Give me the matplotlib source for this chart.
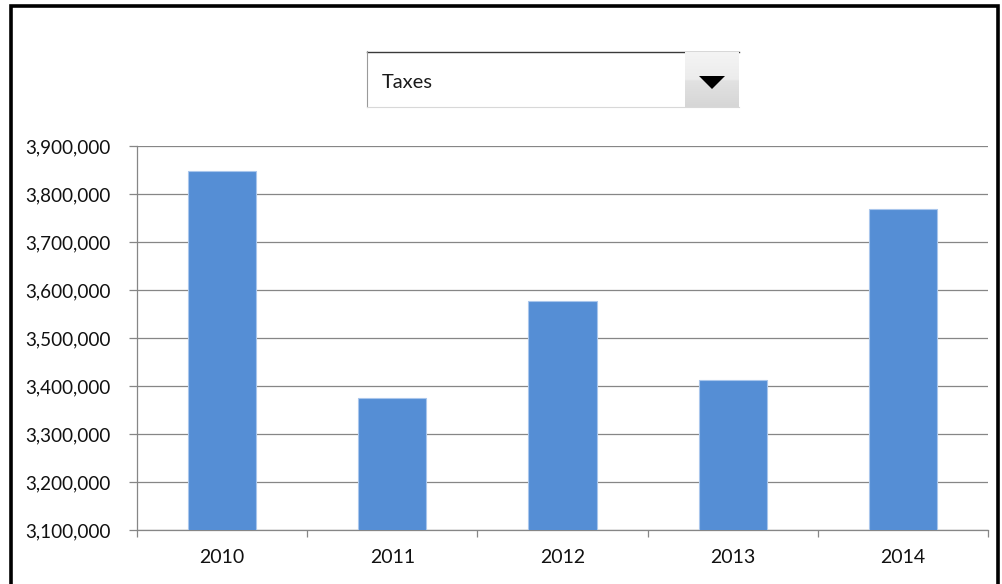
import matplotlib
matplotlib.use("Agg")
import matplotlib.pyplot as plt
from matplotlib.patches import Rectangle, Polygon
from matplotlib.colors import LinearSegmentedColormap
from matplotlib.ticker import FuncFormatter, FixedLocator
import numpy as np

plt.rcParams['font.family'] = ['Lato', 'DejaVu Sans']

years = ['2010', '2011', '2012', '2013', '2014']
taxes = [3847000, 3374000, 3578000, 3412000, 3769000]
selected = 'Taxes'

W, H = 1003, 584
fig = plt.figure(figsize=(W / 100, H / 100), dpi=100)

# overlay in pixel units for the frame and the dropdown control
deco = fig.add_axes([0, 0, 1, 1], zorder=-1)
deco.set_xlim(0, W)
deco.set_ylim(H, 0)
deco.axis('off')

# black frame (open at the bottom)
deco.plot([11.5, 11.5, 998.5, 998.5], [H + 5, 6, 6, H + 5], color='black', lw=2.6,
          solid_joinstyle='miter', solid_capstyle='butt')

# dropdown box
deco.add_patch(Rectangle((367, 51), 372, 56, facecolor='white', edgecolor='none'))
deco.plot([367, 739], [51.5, 51.5], color='#3a3a3a', lw=1.0)
deco.plot([367.5, 367.5], [51, 107], color='#9a9a9a', lw=0.8)
deco.plot([367, 739], [106.5, 106.5], color='#d8d8d8', lw=0.8)
btn = LinearSegmentedColormap.from_list(
    'btn', [(0, '#f4f4f4'), (0.5, '#ececec'), (0.52, '#e2e2e2'), (1, '#d6d6d6')])
grad = np.linspace(0, 1, 100).reshape(-1, 1)
deco.imshow(grad, extent=(685, 739, 107, 52), cmap=btn, vmin=0, vmax=1,
            aspect='auto', zorder=2)
deco.add_patch(Polygon([(699, 76), (725, 76), (712, 89)], closed=True,
                       facecolor='black', edgecolor='none', zorder=3))
deco.text(382, 82, selected, fontsize=14.5, va='center', ha='left', color='#1a1a1a')

# chart
ax = fig.add_axes([137 / W, (H - 530) / H, 851 / W, 384 / H])
x = np.arange(len(years))
ax.bar(x, taxes, width=0.4, color='#558ed5', edgecolor='#a9c6ec', linewidth=0.8, zorder=3)

ax.set_xlim(-0.5, len(years) - 0.5)
ax.set_ylim(3100000, 3900000)
ax.set_yticks(np.arange(3100000, 3900001, 100000))
ax.yaxis.set_major_formatter(FuncFormatter(lambda v, p: f'{int(v):,}'))
ax.grid(axis='y', color='#868686', linewidth=0.9, zorder=0)

ax.set_xticks(x)
ax.set_xticklabels(years)
ax.xaxis.set_minor_locator(FixedLocator(np.arange(-0.5, len(years), 1.0)))
ax.tick_params(axis='x', which='major', length=0, pad=14, labelsize=14, colors='#111111')
ax.tick_params(axis='x', which='minor', length=5, width=0.9, color='#868686')
ax.tick_params(axis='y', length=6, width=0.9, color='#868686', pad=13, labelsize=13.6,
               labelcolor='#111111')

for s in ['top', 'right']:
    ax.spines[s].set_visible(False)
for s in ['left', 'bottom']:
    ax.spines[s].set_color('#868686')
    ax.spines[s].set_linewidth(0.9)

fig.savefig('out.png', dpi=100)
